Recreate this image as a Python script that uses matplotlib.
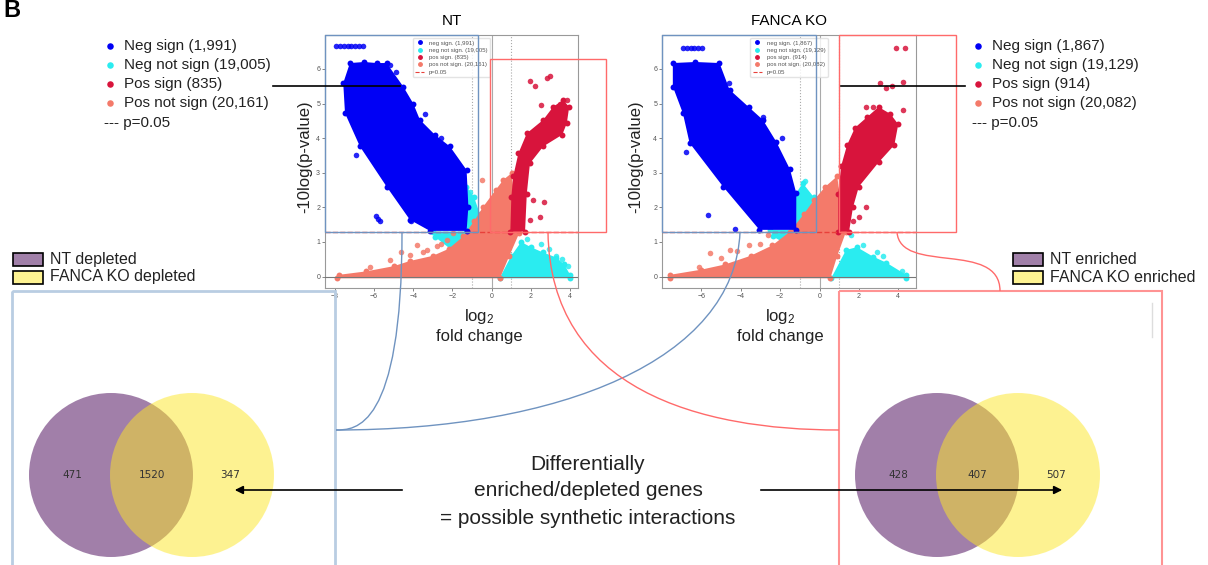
import matplotlib
matplotlib.use('Agg')
import matplotlib.pyplot as plt
import numpy as np
from matplotlib.lines import Line2D
from matplotlib.patches import Circle, Rectangle, PathPatch
from matplotlib.path import Path

plt.rcParams['font.family'] = 'Liberation Sans'
plt.rcParams['mathtext.fontset'] = 'custom'
plt.rcParams['mathtext.rm'] = 'Liberation Sans'
plt.rcParams['mathtext.default'] = 'regular'

W, H = 1208, 565

# --- data ---
CATEGORIES = ['Neg sign', 'Neg not sign', 'Pos sign', 'Pos not sign']
CAT_COLORS = ['#0000f5', '#2aecf0', '#d8143c', '#f47a6a']
NT_COUNTS = [1991, 19005, 835, 20161]
FK_COUNTS = [1867, 19129, 914, 20082]
P_CUT = 0.05

DEPLETED = [471, 1520, 347]   # NT only, both, FANCA KO only
ENRICHED = [428, 407, 507]
VENN_SETS_DEP = ['NT depleted', 'FANCA KO depleted']
VENN_SETS_ENR = ['NT enriched', 'FANCA KO enriched']
VENN_COLORS = ['#440154', '#fde725']

# point clouds (log2 fold change, -log10 p)
NT_NEG_SIGN = [(-7.57, 5.59), (-7.23, 6.17), (-6.5, 6.2), (-5.87, 6.17), (-5.36, 6.17),
               (-4.51, 5.49), (-4.0, 5.0), (-3.66, 4.53), (-2.9, 4.1), (-2.13, 3.76),
               (-1.28, 3.08), (-1.19, 2.02), (-1.28, 1.32), (-3.15, 1.32), (-4.17, 1.64),
               (-5.36, 2.6), (-6.72, 3.76), (-7.48, 4.72)]
NT_NEG_SIGN_DOTS = [(-7.95, 6.65), (-7.75, 6.65), (-7.55, 6.65), (-7.35, 6.65), (-7.15, 6.65),
                    (-6.95, 6.65), (-6.75, 6.65), (-6.55, 6.65), (-5.9, 1.75), (-5.8, 1.65),
                    (-5.7, 1.6), (-4.1, 1.6), (-4.9, 5.9), (-5.2, 6.1), (-3.4, 4.7),
                    (-7.1, 5.3), (-6.0, 6.0), (-4.4, 5.2), (-2.6, 4.0), (-6.9, 3.5)]
NT_NEG_NOT_A = [(0.4, -0.05), (1.0, 0.6), (1.5, 1.0), (2.0, 0.85), (2.6, 0.7), (3.3, 0.55),
                (3.7, 0.35), (4.0, 0.05), (4.0, -0.05)]
NT_NEG_NOT_B = [(-1.3, 2.6), (-0.9, 2.3), (-0.6, 1.8), (-1.2, 1.0), (-2.0, 0.75),
                (-2.9, 1.15), (-3.0, 1.3), (-1.3, 1.3)]
NT_NEG_NOT_DOTS = [(-1.1, 2.45), (0.51, 2.5), (2.5, 0.95), (3.3, 0.6), (3.9, 0.3), (1.8, 1.1),
                   (2.9, 0.8), (3.6, 0.5)]
NT_POS_SIGN = [(0.95, 1.3), (1.0, 2.3), (1.1, 2.9), (1.36, 3.56), (1.79, 4.14), (2.63, 4.53),
               (3.14, 4.91), (3.65, 5.1), (3.95, 4.9), (3.83, 4.43), (3.6, 4.1), (2.63, 3.76),
               (1.95, 3.27), (1.79, 2.4), (1.7, 1.3)]
NT_POS_SIGN_DOTS = [(1.95, 5.64), (2.2, 5.5), (2.81, 5.73), (2.95, 5.8), (3.5, 5.0), (3.85, 5.1),
                    (2.5, 4.95), (2.1, 2.2), (2.65, 2.15), (2.47, 1.73), (1.96, 1.64), (3.3, 4.3)]
NT_POS_NOT = [(-7.9, -0.05), (-7.8, 0.05), (-6.4, 0.15), (-5.0, 0.3), (-4.17, 0.45), (-3.0, 0.6),
              (-2.2, 0.8), (-1.45, 1.16), (-0.9, 1.6), (-0.43, 2.02), (0.2, 2.5), (0.6, 2.8),
              (1.02, 2.99), (1.2, 2.0), (1.4, 1.25), (0.9, 0.6), (0.42, -0.05)]
NT_POS_NOT_DOTS = [(-0.51, 2.79), (-2.8, 0.87), (-3.3, 0.77), (-4.17, 0.63), (-5.2, 0.48),
                   (-6.2, 0.29), (-1.96, 1.25), (-2.3, 1.06), (-3.8, 0.9), (-4.6, 0.7),
                   (-2.6, 0.95), (-3.5, 0.7)]

FK_NEG_SIGN = [(-7.45, 5.49), (-7.45, 6.17), (-6.3, 6.2), (-5.08, 6.17), (-4.57, 5.4),
               (-3.6, 4.9), (-2.88, 4.53), (-2.2, 3.9), (-1.5, 3.1), (-1.18, 2.41),
               (-1.18, 1.35), (-3.05, 1.35), (-4.9, 2.6), (-6.6, 3.86), (-6.94, 4.72)]
FK_NEG_SIGN_DOTS = [(-6.95, 6.6), (-6.75, 6.6), (-6.55, 6.6), (-6.35, 6.6), (-6.15, 6.6),
                    (-5.95, 6.6), (-5.66, 1.78), (-4.31, 1.38), (-1.89, 3.99), (-4.6, 5.6),
                    (-5.5, 6.0), (-7.2, 5.8), (-2.88, 4.6), (-4.0, 4.6), (-6.8, 3.6)]
FK_NEG_NOT_A = [(0.59, -0.05), (1.35, 0.77), (1.9, 0.85), (2.71, 0.58), (3.4, 0.4),
                (4.4, 0.05), (4.4, -0.05)]
FK_NEG_NOT_B = [(-0.85, 2.7), (-0.3, 2.3), (-0.9, 1.0), (-1.18, 0.77), (-2.37, 1.16),
                (-2.5, 1.35), (-1.18, 1.35), (-1.2, 2.4)]
FK_NEG_NOT_DOTS = [(-0.76, 2.75), (0.51, 2.55), (3.2, 0.6), (2.2, 0.9), (4.2, 0.15), (1.6, 1.2),
                   (2.9, 0.7)]
FK_POS_SIGN = [(0.95, 1.3), (0.95, 2.4), (1.1, 3.2), (1.4, 3.8), (1.8, 4.3), (2.4, 4.6),
               (3.0, 4.9), (3.6, 4.7), (4.0, 4.4), (3.8, 3.8), (3.0, 3.3), (2.0, 2.6),
               (1.7, 2.0), (1.5, 1.3)]
FK_POS_SIGN_DOTS = [(3.9, 6.6), (4.32, 6.6), (3.05, 5.59), (3.4, 5.44), (3.7, 5.5), (4.24, 5.63),
                    (4.24, 4.82), (2.37, 4.91), (2.7, 4.9), (2.03, 1.73), (2.37, 2.02), (1.7, 1.6)]
FK_POS_NOT = [(-7.6, -0.05), (-7.6, 0.05), (-6.0, 0.2), (-4.8, 0.35), (-3.5, 0.6), (-2.4, 0.9),
              (-1.5, 1.3), (-0.8, 1.8), (-0.3, 2.2), (0.3, 2.6), (0.9, 2.9), (1.1, 2.0),
              (1.35, 1.3), (0.9, 0.6), (0.55, -0.05)]
FK_POS_NOT_DOTS = [(-4.57, 0.77), (-5.58, 0.67), (-6.1, 0.29), (-3.6, 0.9), (-2.6, 1.2),
                   (-3.0, 0.95), (-5.0, 0.55), (-4.2, 0.75)]

ZORDER = [4, 2, 4, 3]


def px_rect(l, t, r, b):
    return [l / W, 1 - b / H, (r - l) / W, (b - t) / H]


def volcano(rect, title, counts, shapes, dots, xlim, xticks):
    ax = fig.add_axes(rect)
    for cat, poly in shapes:
        xs, ys = zip(*poly)
        ax.fill(xs, ys, color=CAT_COLORS[cat], lw=0, zorder=ZORDER[cat])
        ax.scatter(xs, ys, s=18, color=CAT_COLORS[cat], lw=0, zorder=ZORDER[cat])
    for cat, pts in enumerate(dots):
        xs, ys = zip(*pts)
        ax.scatter(xs, ys, s=16, color=CAT_COLORS[cat], lw=0, alpha=0.85, zorder=ZORDER[cat])
    p_line = -np.log10(P_CUT)
    ax.axhline(p_line, color='#e8403a', ls='--', lw=1, zorder=6)
    ax.axhline(0, color='#777777', lw=0.8, zorder=6)
    ax.axvline(0, color='#aaaaaa', lw=0.8, zorder=1)
    for v in (-1, 1):
        ax.axvline(v, color='#aaaaaa', ls=':', lw=0.8, zorder=1)
    ax.set_xlim(*xlim)
    ax.set_ylim(-0.33, 6.98)
    ax.set_xticks(xticks)
    ax.set_yticks(range(0, 7))
    ax.tick_params(labelsize=5, colors='#555555', length=2, width=0.5, pad=1.5)
    for s in ax.spines.values():
        s.set_color('#999999')
        s.set_linewidth(0.8)
    ax.set_title(title, fontsize=11, pad=7)
    handles = [Line2D([0], [0], marker='o', ls='', color=c, markersize=2.5) for c in CAT_COLORS]
    handles.append(Line2D([0], [0], color='#e8403a', ls='--', lw=0.8))
    labels = [f'{n.lower()}. ({k:,})' for n, k in zip(CATEGORIES, counts)] + [f'p={P_CUT}']
    leg = ax.legend(handles, labels, loc='upper center', bbox_to_anchor=(0.5, 1.0),
                    fontsize=4.3, labelcolor='#555555', framealpha=0.8,
                    edgecolor='#dddddd', handlelength=1.5, borderpad=0.4, labelspacing=0.35)
    leg.set_zorder(8)
    return ax


fig = plt.figure(figsize=(W / 100, H / 100), dpi=100)

volcano(px_rect(325, 35, 578, 288), 'NT', NT_COUNTS,
        [(1, NT_NEG_NOT_A), (1, NT_NEG_NOT_B), (3, NT_POS_NOT), (0, NT_NEG_SIGN), (2, NT_POS_SIGN)],
        [NT_NEG_SIGN_DOTS, NT_NEG_NOT_DOTS, NT_POS_SIGN_DOTS, NT_POS_NOT_DOTS],
        (-8.5, 4.4), [-8, -6, -4, -2, 0, 2, 4])
volcano(px_rect(662, 35, 916, 288), 'FANCA KO', FK_COUNTS,
        [(1, FK_NEG_NOT_A), (1, FK_NEG_NOT_B), (3, FK_POS_NOT), (0, FK_NEG_SIGN), (2, FK_POS_SIGN)],
        [FK_NEG_SIGN_DOTS, FK_NEG_NOT_DOTS, FK_POS_SIGN_DOTS, FK_POS_NOT_DOTS],
        (-8.0, 4.9), [-6, -4, -2, 0, 2, 4])

# overlay in pixel coordinates (y down)
ov = fig.add_axes([0, 0, 1, 1], zorder=10)
ov.set_xlim(0, W)
ov.set_ylim(H, 0)
ov.axis('off')

ov.text(3, 17, 'B', fontsize=17, fontweight='bold', va='baseline', ha='left')

# outer legends
rows = [46, 65, 84, 103]
for mx, counts in ((110, NT_COUNTS), (978, FK_COUNTS)):
    for i, y in enumerate(rows):
        ov.scatter(mx, y, s=22, color=CAT_COLORS[i], lw=0)
        ov.text(mx + 14, y, f'{CATEGORIES[i]} ({counts[i]:,})', fontsize=11, va='center', color='#222222')
    ov.text(mx - 6, 123, f'--- p={P_CUT}', fontsize=11, va='center', color='#222222')

ov.plot([273, 400], [86, 86], color='black', lw=1.2)
ov.plot([841, 965], [86, 86], color='black', lw=1.2)

# axis labels
for cx, cy in ((305, 157), (636, 157)):
    ov.text(cx, cy, '-10log(p-value)', fontsize=12, rotation=90, ha='center', va='center', color='#222222')
for cx in (479, 780):
    ov.text(cx, 317, 'log$_2$', fontsize=12, ha='center', va='center', color='#222222')
    ov.text(cx, 336, 'fold change', fontsize=12, ha='center', va='center', color='#222222')

# highlight boxes on the volcano plots
BLUE_LN = '#6f93c0'
RED_LN = '#ff6a6a'
for l, t, r, b in ((325, 35, 478, 232), (662, 35, 816, 232)):
    ov.add_patch(Rectangle((l, t), r - l, b - t, fill=False, ec=BLUE_LN, lw=1))
for l, t, r, b in ((490, 59, 606, 232), (839, 35, 956, 232)):
    ov.add_patch(Rectangle((l, t), r - l, b - t, fill=False, ec=RED_LN, lw=1))

# venn boxes
ov.add_patch(Rectangle((12, 291), 323, 300, fill=False, ec='#b9cde2', lw=2))
ov.add_patch(Rectangle((839, 291), 323, 300, fill=False, ec='#ff9393', lw=1.5))
ov.plot([1152, 1152], [303, 337], color='#dddddd', lw=1)

# connector curves
curves = [([(402, 232), (402, 430), (355, 430), (336, 430)], BLUE_LN),
          ([(740, 232), (735, 360), (560, 430), (336, 430)], BLUE_LN),
          ([(548, 232), (550, 390), (700, 430), (839, 430)], RED_LN),
          ([(897, 232), (900, 275), (1000, 240), (1000, 291)], RED_LN)]
codes = [Path.MOVETO, Path.CURVE4, Path.CURVE4, Path.CURVE4]
for verts, c in curves:
    ov.add_patch(PathPatch(Path(verts, codes), fill=False, ec=c, lw=1))


def venn(cx, cy, values, names, leg_x):
    r = 82
    for i, dx in enumerate((-40.5, 40.5)):
        ov.add_patch(Circle((cx + dx, cy), r, color=VENN_COLORS[i], alpha=0.5, lw=0))
    for v, dx in zip(values, (-79, 0, 79)):
        ov.text(cx + dx, cy, str(v), fontsize=7.5, family='DejaVu Sans', ha='center', va='center', color='#333333')
    solid = ['#a180a9', '#fef392']
    for i, (name, y) in enumerate(zip(names, (253, 270.5))):
        ov.add_patch(Rectangle((leg_x, y), 30, 13, fc=solid[i], ec='black', lw=1.2))
        ov.text(leg_x + 37, y + 6.5, name, fontsize=11.5, va='center', color='#222222')


venn(151.5, 475, DEPLETED, VENN_SETS_DEP, 13)
venn(977.5, 475, ENRICHED, VENN_SETS_ENR, 1013)

# arrows and central caption
ov.annotate('', xy=(232, 490), xytext=(405, 490),
            arrowprops=dict(arrowstyle='-|>', color='black', lw=1.2, mutation_scale=12))
ov.annotate('', xy=(1065, 490), xytext=(758, 490),
            arrowprops=dict(arrowstyle='-|>', color='black', lw=1.2, mutation_scale=12))
for y, line in zip((464, 490, 518), ('Differentially', 'enriched/depleted genes',
                                     '= possible synthetic interactions')):
    ov.text(588, y, line, fontsize=15, ha='center', va='center', color='#222222')

fig.savefig('out.png', dpi=100)
